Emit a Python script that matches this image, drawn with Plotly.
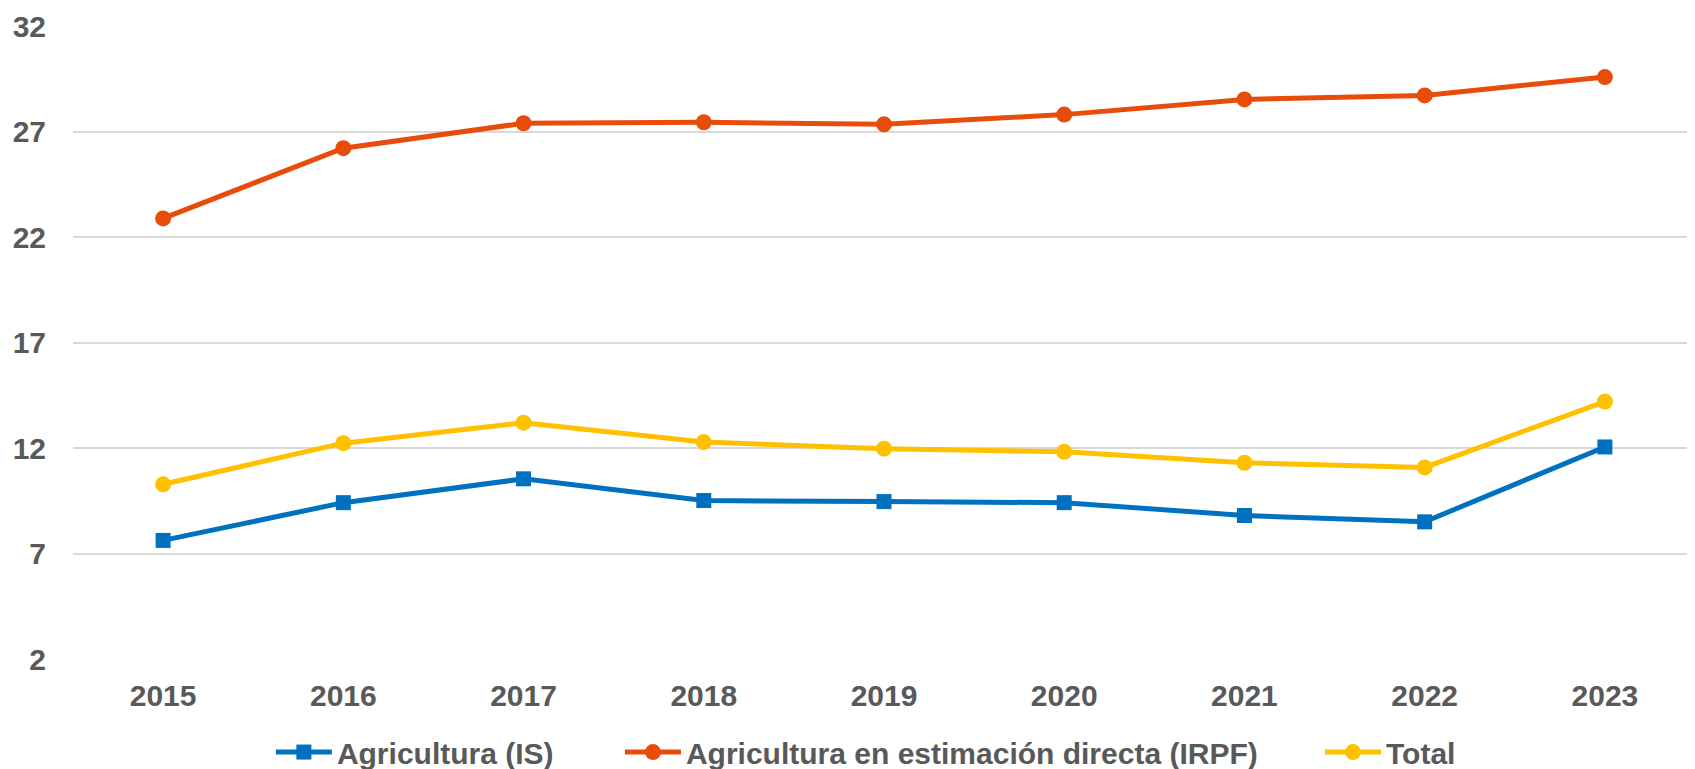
import plotly.graph_objects as go

years = ["2015", "2016", "2017", "2018", "2019", "2020", "2021", "2022", "2023"]
agricultura_is = [7.62, 9.41, 10.54, 9.51, 9.46, 9.41, 8.80, 8.50, 12.05]
agricultura_irpf = [22.88, 26.21, 27.39, 27.44, 27.34, 27.80, 28.52, 28.71, 29.58]
total = [10.28, 12.23, 13.20, 12.28, 11.97, 11.82, 11.30, 11.08, 14.20]
y_ticks = [2, 7, 12, 17, 22, 27, 32]

fig = go.Figure()
fig.add_trace(go.Scatter(
    x=years, y=agricultura_is, name="Agricultura (IS)", mode="lines+markers",
    line=dict(color="#0070C0", width=5),
    marker=dict(symbol="square", size=15, color="#0070C0"),
    legend="legend",
))
fig.add_trace(go.Scatter(
    x=years, y=agricultura_irpf, name="Agricultura en estimación directa (IRPF)", mode="lines+markers",
    line=dict(color="#E84C0A", width=5),
    marker=dict(symbol="circle", size=16, color="#E84C0A"),
    legend="legend2",
))
fig.add_trace(go.Scatter(
    x=years, y=total, name="Total", mode="lines+markers",
    line=dict(color="#FFC000", width=5),
    marker=dict(symbol="circle", size=16, color="#FFC000"),
    legend="legend3",
))

legend_font = dict(size=30, color="#595959", family="Liberation Sans, Arial, sans-serif", weight="bold")
def leg(x):
    return dict(orientation="h", x=x, xanchor="left", y=-0.147, yanchor="middle",
                font=legend_font, itemwidth=56, bgcolor="rgba(0,0,0,0)")

fig.update_layout(
    width=1695, height=769,
    margin=dict(l=65, r=8, t=18, b=118, autoexpand=False),
    paper_bgcolor="white", plot_bgcolor="white",
    font=dict(family="Liberation Sans, Arial, sans-serif", color="#595959", size=30),
    showlegend=True,
    legend=leg(0.122),
    legend2=leg(0.3372),
    legend3=leg(0.7688),
    xaxis=dict(
        type="category", range=[-0.5, 8.5], showgrid=False, zeroline=False,
        showline=False, ticks="",
        tickfont=dict(size=30, color="#595959", weight="bold"),
        ticklabelstandoff=16,
    ),
    yaxis=dict(
        range=[2, 32], tickvals=y_ticks, showgrid=True, gridcolor="#D9D9D9", gridwidth=2,
        zeroline=False, showline=False, ticks="",
        tickfont=dict(size=30, color="#595959", weight="bold"),
        ticklabelstandoff=26,
    ),
)

fig.write_html("out.html")
